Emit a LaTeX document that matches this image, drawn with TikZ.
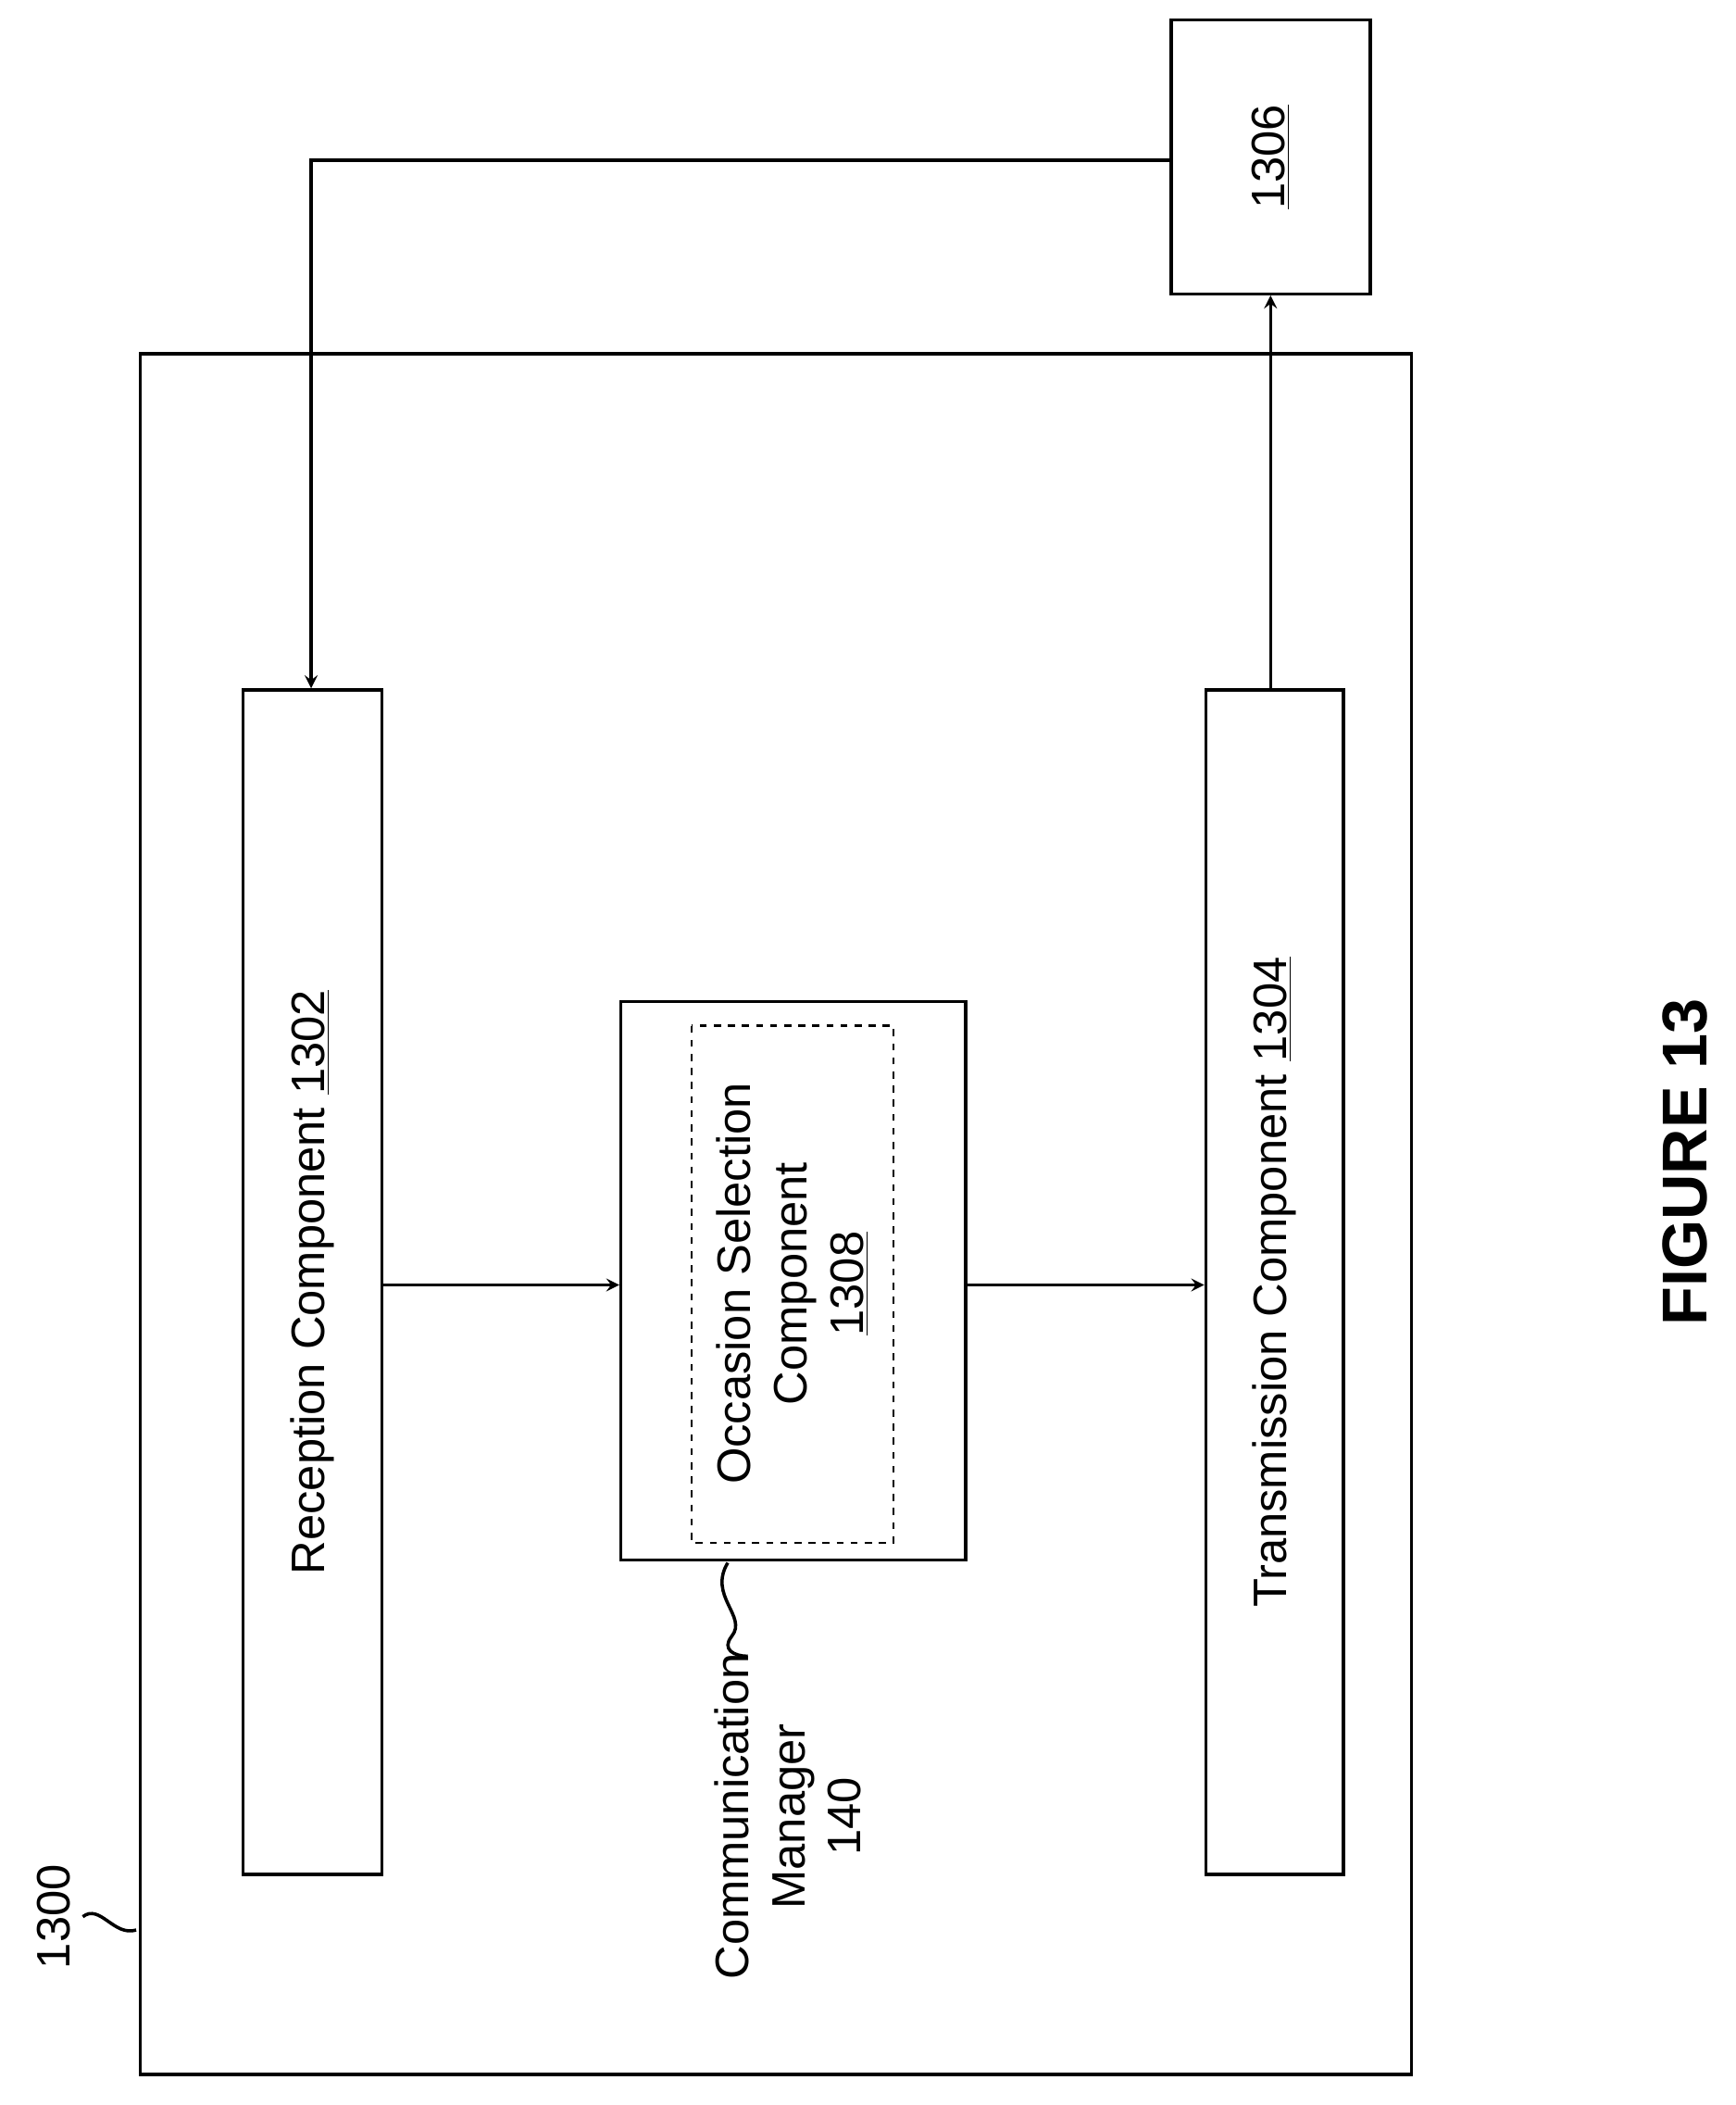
\documentclass[tikz,border=0pt]{standalone}
\usepackage{fontspec}
\setmainfont{Liberation Sans}
\usetikzlibrary{positioning}
\begin{document}
\begin{tikzpicture}[x=0.02cm,y=-0.02cm,line width=1.4pt,
    blk/.style={draw,rectangle,inner sep=0pt},
    lbl/.style={rotate=90,font=\fontsize{20}{24}\selectfont,align=center},
    arr/.style={->,>=stealth}]
        \useasboundingbox (0,0) rectangle (1300,1576);
        % outer device box
        \draw (105,265) rectangle (1057,1553);
        \node[lbl] (L1300) at (40,1435) {1300};
        \draw (62,1435) .. controls (75,1425) and (85,1450) .. (102,1445);

        % components
        \node[blk,minimum width=104*0.02cm,minimum height=887*0.02cm] (rx) at (234,960) {};
        \node[lbl] at (rx) {Reception Component \underline{1302}};
        \node[blk,minimum width=103*0.02cm,minimum height=887*0.02cm] (tx) at (954.5,960) {};
        \node[lbl] at (tx) {Transmission Component \underline{1304}};
        \node[blk,minimum width=258*0.02cm,minimum height=418*0.02cm] (cm) at (594,959) {};
        \draw[dashed,line width=1pt] (518,768) rectangle (669,1155);
        \node[lbl] (osc) at (593.5,961) {Occasion Selection\\Component\\\underline{1308}};
        \node[blk,minimum width=149*0.02cm,minimum height=205*0.02cm] (ext) at (951.5,117.5) {};
        \node[lbl] at (ext) {\underline{1306}};

        % communication manager label
        \node[lbl] (cml) at (590,1360) {Communication\\Manager\\140};
        \draw (545,1170) .. controls (530,1195) and (560,1210) .. (548,1225) .. controls (540,1235) and (550,1240) .. (560,1240);

        % data paths
        \coordinate (c1) at (233,120);
        \draw[arr] (ext.west |- c1) -- (c1) -- (rx.north -| c1);
        \draw[arr] (tx.north -| ext.south) -- (ext.south);
        \draw[arr] (rx.east |- 0,962) -- (cm.west |- 0,962);
        \draw[arr] (cm.east |- 0,962) -- (tx.west |- 0,962);

        \node[rotate=90,font=\fontsize{27}{32}\selectfont\bfseries] (fig) at (1262,870) {FIGURE 13};
\end{tikzpicture}
\end{document}
